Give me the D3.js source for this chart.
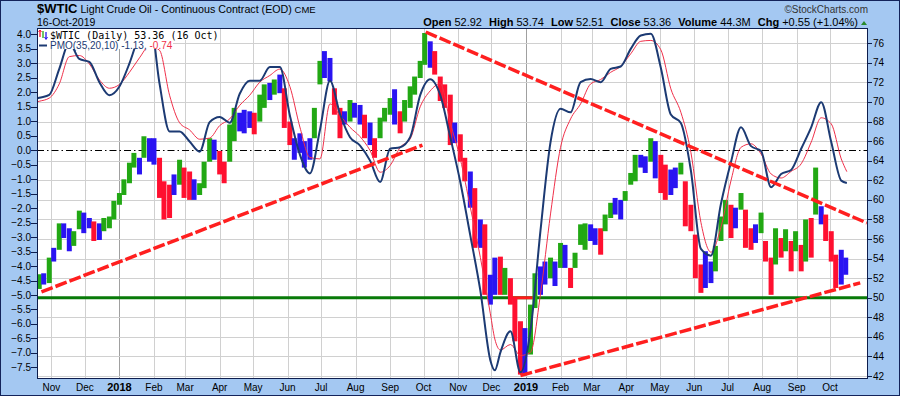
<!DOCTYPE html>
<html>
<head>
<meta charset="utf-8">
<script src="https://cdn.jsdelivr.net/npm/d3@7"></script>
<style>
  body { margin: 0; background: #a4c8f2; }
  svg { display: block; }
</style>
</head>
<body>
<svg id="chart" width="900" height="396"></svg>
<script>
// ---- data ----
const barDates = [
  "2017-10-21","2017-10-25","2017-10-30","2017-11-03","2017-11-08","2017-11-12","2017-11-17","2017-11-21","2017-11-26","2017-11-30",
  "2017-12-05","2017-12-09","2017-12-14","2017-12-18","2017-12-23","2017-12-27","2018-01-01","2018-01-05","2018-01-10","2018-01-14",
  "2018-01-19","2018-01-23","2018-01-28","2018-02-01","2018-02-06","2018-02-10","2018-02-15","2018-02-19","2018-02-24","2018-02-28",
  "2018-03-05","2018-03-09","2018-03-14","2018-03-18","2018-03-23","2018-03-27","2018-04-01","2018-04-05","2018-04-10","2018-04-14",
  "2018-04-19","2018-04-23","2018-04-28","2018-05-02","2018-05-07","2018-05-11","2018-05-16","2018-05-20","2018-05-25","2018-05-29",
  "2018-06-03","2018-06-07","2018-06-12","2018-06-16","2018-06-21","2018-06-25","2018-06-30","2018-07-04","2018-07-09","2018-07-13",
  "2018-07-18","2018-07-22","2018-07-27","2018-07-31","2018-08-05","2018-08-09","2018-08-14","2018-08-18","2018-08-23","2018-08-27",
  "2018-09-01","2018-09-05","2018-09-10","2018-09-14","2018-09-19","2018-09-23","2018-09-28","2018-10-02","2018-10-07","2018-10-11",
  "2018-10-16","2018-10-20","2018-10-25","2018-10-29","2018-11-03","2018-11-07","2018-11-12","2018-11-16","2018-11-21","2018-11-25",
  "2018-11-30","2018-12-04","2018-12-09","2018-12-13","2018-12-18","2018-12-22","2018-12-27","2018-12-31","2019-01-05","2019-01-09",
  "2019-01-14","2019-01-18","2019-01-23","2019-01-27","2019-02-01","2019-02-05","2019-02-10","2019-02-14","2019-02-19","2019-02-23",
  "2019-02-28","2019-03-04","2019-03-09","2019-03-13","2019-03-18","2019-03-22","2019-03-27","2019-03-31","2019-04-05","2019-04-09",
  "2019-04-14","2019-04-18","2019-04-23","2019-04-27","2019-05-02","2019-05-06","2019-05-11","2019-05-15","2019-05-20","2019-05-24",
  "2019-05-29","2019-06-02","2019-06-07","2019-06-11","2019-06-16","2019-06-20","2019-06-25","2019-06-29","2019-07-04","2019-07-08",
  "2019-07-13","2019-07-17","2019-07-22","2019-07-26","2019-07-31","2019-08-04","2019-08-09","2019-08-13","2019-08-18","2019-08-22",
  "2019-08-27","2019-08-31","2019-09-05","2019-09-09","2019-09-14","2019-09-18","2019-09-23","2019-09-27","2019-10-02","2019-10-06",
  "2019-10-11","2019-10-15"
];
const barHigh = [
  52.4,52.5,54.1,55.1,57.6,57.6,57.1,56.8,58.9,58.7,
  58.15,57.8,57.6,58.15,58.3,59.9,60.7,62.1,63.8,64.8,
  64.3,66.5,66.3,66.3,64.3,61.9,61.55,62.6,64.1,63.3,
  62.9,62.1,61.7,63.9,66.3,66.15,65.0,63.9,67.7,69.4,
  68.9,69.2,69.05,68.9,70.75,71.8,71.95,72.3,72.8,71.4,
  68.0,66.3,66.8,66.0,66.3,69.4,74.2,75.2,74.5,71.4,
  69.4,69.05,70.2,69.9,69.7,68.7,67.9,66.3,68.4,69.4,
  70.4,71.3,69.05,70.2,71.6,72.6,74.2,77.05,76.2,75.2,
  72.6,71.8,70.75,67.9,66.7,64.3,62.9,61.2,58.0,57.5,
  52.35,54.1,54.2,53.05,52.0,50.0,47.6,46.9,49.3,52.5,
  53.2,53.7,54.1,53.7,55.6,55.4,53.05,54.6,57.5,57.6,
  57.5,57.1,57.1,58.5,59.7,60.2,60.0,60.9,62.75,64.6,
  64.6,64.45,66.3,66.0,64.6,63.6,63.1,63.3,63.8,61.9,
  59.5,56.45,53.4,54.75,53.7,55.3,58.3,60.0,59.5,59.2,
  60.7,59.0,57.1,57.5,58.7,55.8,54.1,57.1,56.1,57.0,
  55.8,56.8,55.4,58.0,58.15,63.3,59.35,58.5,56.8,54.4,
  54.9,54.1
];
const barLow = [
  50.9,51.35,51.5,53.7,54.9,56.1,54.75,55.3,57.0,56.6,
  57.1,55.8,55.9,56.8,57.1,58.0,59.5,60.5,61.7,63.3,
  62.6,64.3,63.9,63.6,60.2,58.0,58.15,60.5,61.55,60.2,
  60.0,60.0,60.5,61.2,63.9,64.1,62.6,61.7,63.9,66.0,
  67.0,66.8,67.35,66.7,68.0,69.4,70.2,70.75,70.9,67.35,
  65.6,64.1,64.8,63.3,64.1,66.3,71.8,72.45,72.1,68.7,
  66.3,67.7,68.0,68.4,67.7,66.3,65.6,64.3,66.3,68.0,
  68.7,67.7,66.8,68.0,69.4,70.75,72.45,73.8,73.5,72.8,
  70.1,69.4,65.6,65.8,63.9,61.9,59.2,55.1,55.1,50.3,
  49.3,50.3,50.3,50.3,49.3,45.55,42.15,42.15,44.2,48.95,
  50.3,51.35,52.0,51.2,53.05,53.05,51.0,53.05,55.4,54.9,
  55.8,55.4,54.4,56.8,58.15,58.5,58.0,59.9,61.55,61.9,
  63.3,62.75,63.9,62.2,60.7,60.0,60.5,61.2,62.6,57.3,
  56.8,52.0,50.5,51.0,51.5,52.7,55.8,57.5,56.1,57.1,
  59.0,55.1,54.9,55.6,56.6,53.7,50.3,53.4,54.1,54.75,
  52.7,54.75,52.7,53.7,54.1,58.5,57.5,55.8,53.7,51.0,
  51.35,52.35
];
// G = up impulse, R = down impulse, B = neutral
const barColor = (
  "GBGBGBBGGB" + "BRBGGGGGGG" + "BGBBRRRBGR" + "RBGGGBRRGG" +
  "BBBRGGBGBR" + "RBBBBGGBBR" + "RBGBBRBRGG" + "GBRGGGGGBR" +
  "RRRBRRBRBR" + "BBRGRRRBGG" + "BBGBGBRGGG" + "BBRGGBBGGG" +
  "BBGBRRBBGR" + "RRRBBGGGRB" + "GRRBGRRGRG" + "RGRGRGBRRR" + "BB"
).split("");

const pmoDates = [
  "2017-10-18","2017-10-21","2017-10-30","2017-11-08","2017-11-17","2017-11-26","2017-12-05","2017-12-14","2017-12-23",
  "2018-01-01","2018-01-10","2018-01-19","2018-01-28","2018-02-06","2018-02-15","2018-02-24","2018-03-05","2018-03-14",
  "2018-03-23","2018-04-01","2018-04-10","2018-04-19","2018-04-28","2018-05-07","2018-05-16","2018-05-25","2018-06-03",
  "2018-06-12","2018-06-21","2018-06-30","2018-07-09","2018-07-18","2018-07-27","2018-08-05","2018-08-14","2018-08-23",
  "2018-09-01","2018-09-10","2018-09-19","2018-09-28","2018-10-07","2018-10-16","2018-10-25","2018-11-03","2018-11-12",
  "2018-11-21","2018-11-30","2018-12-04","2018-12-09","2018-12-18","2018-12-27","2019-01-05","2019-01-14","2019-01-23",
  "2019-02-01","2019-02-10","2019-02-19","2019-02-28","2019-03-09","2019-03-18","2019-03-27","2019-04-05","2019-04-14",
  "2019-04-23","2019-05-02","2019-05-11","2019-05-20","2019-05-29","2019-06-07","2019-06-16","2019-06-25","2019-07-04",
  "2019-07-13","2019-07-22","2019-07-31","2019-08-09","2019-08-18","2019-08-27","2019-09-05","2019-09-14","2019-09-23",
  "2019-10-02","2019-10-11","2019-10-16"
];
const pmoLine = [
  1.77,1.81,1.91,2.81,3.70,3.15,3.05,2.35,1.90,
  2.20,3.00,4.00,4.60,2.30,0.65,0.65,0.30,-0.05,
  0.97,1.15,0.95,1.95,2.40,2.40,2.87,2.87,1.20,
  -0.15,-0.80,0.70,2.40,1.25,0.45,0.16,-0.36,-1.10,
  0.05,0.10,0.45,1.90,2.45,1.90,0.45,-1.10,-2.95,
  -4.85,-7.26,-7.60,-6.98,-6.25,-7.67,-6.23,-2.77,0.28,
  1.43,1.31,2.35,2.46,2.35,2.81,2.89,3.50,3.96,
  4.02,2.85,1.23,0.94,-0.70,-3.41,-3.64,-1.85,-0.41,
  0.79,0.14,-0.03,-1.28,-0.82,-0.68,0.05,0.79,1.66,
  0.28,-1.05,-1.13
];
const pmoSignal = [
  1.66,1.69,1.80,2.29,3.23,3.27,2.98,2.43,2.14,
  2.27,2.69,3.19,3.60,3.45,1.90,0.95,0.70,0.38,
  0.42,0.85,1.08,1.55,1.90,2.35,2.58,2.80,2.20,
  0.80,-0.25,-0.30,1.60,1.20,0.79,0.47,-0.01,-0.76,
  -0.53,0.10,0.39,1.50,2.05,2.30,0.95,-0.30,-1.97,
  -3.70,-5.65,-6.52,-6.90,-6.71,-7.09,-6.98,-4.96,-2.20,
  0.10,1.08,1.60,2.29,2.44,2.69,2.90,3.33,3.76,
  3.79,3.47,2.12,1.31,-0.07,-2.49,-3.52,-2.66,-1.05,
  0.10,0.22,-0.13,-0.82,-0.96,-0.73,-0.47,0.28,1.12,
  0.91,-0.30,-0.74
];

const pmoTicks = [4.0,3.5,3.0,2.5,2.0,1.5,1.0,0.5,0.0,-0.5,-1.0,-1.5,-2.0,-2.5,-3.0,-3.5,-4.0,-4.5,-5.0,-5.5,-6.0,-6.5,-7.0,-7.5];
const priceTicks = [76,74,72,70,68,66,64,62,60,58,56,54,52,50,48,46,44,42];
const monthLabels = ["Nov","Dec","2018","Feb","Mar","Apr","May","Jun","Jul","Aug","Sep","Oct",
                     "Nov","Dec","2019","Feb","Mar","Apr","May","Jun","Jul","Aug","Sep","Oct"];

// trend lines drawn on the chart: [date, price] pairs
const trendLines = [
  [["2017-10-23", 50.6], ["2018-09-30", 65.6]],
  [["2018-10-03", 77.15], ["2019-11-03", 57.64]],
  [["2018-12-27", 42.05], ["2019-10-28", 51.52]]
];
const supportLevel = 50;
const supportRedSpan = ["2018-12-18", "2019-01-08"];

// ---- layout ----
const parse = d3.utcParse("%Y-%m-%d");
const pL = 37, pR = 868, pT = 28, pB = 379;
const svg = d3.select("#chart");

const x = d3.scaleUtc().domain([parse("2017-10-19"), parse("2019-11-04")]).range([pL, pR]);
const yP = d3.scaleLinear().domain([41.7, 77.56]).range([pB, pT]);
const yM = d3.scaleLinear().domain([-7.9, 4.22]).range([pB, pT]);

const colors = { G: "#22a814", R: "#ff1030", B: "#2a14f2" };
const navy = "#1c3a73";

// page background + border
svg.append("rect").attr("x", 0.5).attr("y", 0.5).attr("width", 899).attr("height", 395)
  .attr("fill", "#a4c8f2").attr("stroke", "#13235a");

// plot background
svg.append("rect").attr("x", pL).attr("y", pT).attr("width", pR - pL).attr("height", pB - pT)
  .attr("fill", "#fff");

svg.append("defs").append("clipPath").attr("id", "clip").append("rect")
  .attr("x", pL).attr("y", pT).attr("width", pR - pL).attr("height", pB - pT);
const plot = svg.append("g").attr("clip-path", "url(#clip)");

// grid
const months = d3.utcMonth.range(parse("2017-11-01"), parse("2019-10-02"));
plot.selectAll(".vg").data(months).join("line")
  .attr("x1", d => Math.round(x(d)) + 0.5).attr("x2", d => Math.round(x(d)) + 0.5)
  .attr("y1", pT).attr("y2", pB)
  .attr("stroke", d => d.getUTCMonth() === 0 ? "#a0a0a0" : "#d0d0d0").attr("stroke-width", 1);
plot.selectAll(".hg").data(priceTicks).join("line")
  .attr("x1", pL).attr("x2", pR)
  .attr("y1", d => Math.round(yP(d)) + 0.5).attr("y2", d => Math.round(yP(d)) + 0.5)
  .attr("stroke", "#d0d0d0");

// PMO zero line
plot.append("line").attr("x1", pL).attr("x2", pR)
  .attr("y1", Math.round(yM(0)) + 0.5).attr("y2", Math.round(yM(0)) + 0.5)
  .attr("stroke", "#000").attr("stroke-dasharray", "7,3,1.5,3");

// support line at 50
plot.append("line").attr("x1", pL).attr("x2", pR)
  .attr("y1", yP(supportLevel)).attr("y2", yP(supportLevel))
  .attr("stroke", "#087a08").attr("stroke-width", 3);
plot.append("line")
  .attr("x1", x(parse(supportRedSpan[0]))).attr("x2", x(parse(supportRedSpan[1])))
  .attr("y1", yP(supportLevel)).attr("y2", yP(supportLevel))
  .attr("stroke", "#ff1a1a").attr("stroke-width", 3);

// price bars
const bars = barDates.map((d, i) => ({ date: parse(d), high: barHigh[i], low: barLow[i], c: barColor[i] }));
plot.selectAll(".bar").data(bars).join("rect")
  .attr("x", d => x(d.date) - 2.5).attr("width", 5)
  .attr("y", d => yP(d.high)).attr("height", d => yP(d.low) - yP(d.high))
  .attr("fill", d => colors[d.c]);

// PMO lines
const pmo = pmoDates.map((d, i) => ({ date: parse(d), v: pmoLine[i], s: pmoSignal[i] }));
plot.append("path").datum(pmo)
  .attr("d", d3.line().x(d => x(d.date)).y(d => yM(d.s)).curve(d3.curveMonotoneX))
  .attr("fill", "none").attr("stroke", "#f0304a").attr("stroke-width", 1);
plot.append("path").datum(pmo)
  .attr("d", d3.line().x(d => x(d.date)).y(d => yM(d.v)).curve(d3.curveMonotoneX))
  .attr("fill", "none").attr("stroke", navy).attr("stroke-width", 2);

// trend lines
plot.selectAll(".trend").data(trendLines).join("line")
  .attr("x1", d => x(parse(d[0][0]))).attr("y1", d => yP(d[0][1]))
  .attr("x2", d => x(parse(d[1][0]))).attr("y2", d => yP(d[1][1]))
  .attr("stroke", "#ff1f1f").attr("stroke-width", 3.5).attr("stroke-dasharray", "12,3");

// legend boxes
const leg = svg.append("g");
leg.append("rect").attr("x", pL + 1).attr("y", pT + 1).attr("width", 182).attr("height", 11).attr("fill", "#fff");
leg.append("rect").attr("x", pL + 1).attr("y", pT + 12).attr("width", 135).attr("height", 9).attr("fill", "#fff");
// small bar icon
[["#ff1030", 40, 30, 37], ["#22a814", 43, 31, 38], ["#2a14f2", 46, 32, 39]].forEach(([c, px, a, b]) => {
  leg.append("line").attr("x1", px).attr("x2", px).attr("y1", a).attr("y2", b).attr("stroke", c).attr("stroke-width", 1.3);
});
leg.append("path").attr("d", "M38.5,32 L40,30 L41.5,32").attr("fill", "none").attr("stroke", "#ff1030").attr("stroke-width", 1);
leg.append("path").attr("d", "M44.5,37 L46,39.5 L47.5,37").attr("fill", "none").attr("stroke", "#2a14f2").attr("stroke-width", 1);
leg.append("text").attr("x", 50).attr("y", 38.5)
  .attr("font-family", "DejaVu Sans Mono").attr("font-size", 10).attr("fill", "#000")
  .text("$WTIC (Daily) 53.36 (16 Oct)");
leg.append("line").attr("x1", 39).attr("x2", 47).attr("y1", 45.5).attr("y2", 45.5).attr("stroke", navy).attr("stroke-width", 2);
const l2 = leg.append("text").attr("x", 50).attr("y", 48.5)
  .attr("font-family", "Liberation Sans, Arial").attr("font-size", 10);
l2.append("tspan").attr("fill", navy).text("PMO(35,20,10) -1.13, ");
l2.append("tspan").attr("fill", "#f0304a").text("-0.74");

// frame
svg.append("rect").attr("x", pL + 0.5).attr("y", pT + 0.5).attr("width", pR - pL - 1).attr("height", pB - pT - 1)
  .attr("fill", "none").attr("stroke", "#0d1d4d");

// left axis (PMO)
const axisFont = "Liberation Sans, Arial";
svg.selectAll(".lt").data(pmoTicks).join("line")
  .attr("x1", 31).attr("x2", pL).attr("y1", d => Math.round(yM(d)) + 0.5).attr("y2", d => Math.round(yM(d)) + 0.5)
  .attr("stroke", "#0d1d4d");
svg.selectAll(".ll").data(pmoTicks).join("text")
  .attr("x", 31).attr("y", d => yM(d) + 3.5).attr("text-anchor", "end")
  .attr("font-family", axisFont).attr("font-size", 10).attr("fill", "#000")
  .text(d => d3.format(".1f")(d));

// right axis (price)
svg.selectAll(".rt").data(priceTicks).join("line")
  .attr("x1", pR).attr("x2", pR + 4).attr("y1", d => Math.round(yP(d)) + 0.5).attr("y2", d => Math.round(yP(d)) + 0.5)
  .attr("stroke", "#0d1d4d");
svg.selectAll(".rl").data(priceTicks).join("text")
  .attr("x", pR + 5).attr("y", d => yP(d) + 3.5)
  .attr("font-family", axisFont).attr("font-size", 10).attr("fill", "#000")
  .text(d => d);

// x axis labels
svg.selectAll(".xl").data(months).join("text")
  .attr("x", d => x(d)).attr("y", 391).attr("text-anchor", "middle")
  .attr("font-family", axisFont)
  .attr("font-size", (d, i) => monthLabels[i].length === 4 ? 11 : 10)
  .attr("font-weight", (d, i) => monthLabels[i].length === 4 ? "bold" : "normal")
  .attr("fill", "#000")
  .text((d, i) => monthLabels[i]);

// header
const hf = "Liberation Sans, Arial";
const title = svg.append("text").attr("x", 37).attr("y", 12.5).attr("font-family", hf).attr("fill", "#000");
title.append("tspan").attr("font-size", 13).attr("font-weight", "bold").text("$WTIC");
title.append("tspan").attr("font-size", 10.7).text(" Light Crude Oil - Continuous Contract (EOD)");
title.append("tspan").attr("font-size", 9.5).text(" CME");
svg.append("text").attr("x", 37).attr("y", 25.5).attr("font-family", hf).attr("font-size", 10.5).text("16-Oct-2019");
svg.append("text").attr("x", 868).attr("y", 12.5).attr("text-anchor", "end")
  .attr("font-family", hf).attr("font-size", 10).attr("fill", "#333").text("\u00a9StockCharts.com");

const quote = [["Open", "52.92"], ["High", "53.74"], ["Low", "52.51"], ["Close", "53.36"], ["Volume", "44.3M"], ["Chg", "+0.55 (+1.04%)"]];
const q = svg.append("text").attr("x", 858).attr("y", 25.5).attr("text-anchor", "end")
  .attr("font-family", hf).attr("font-size", 11).attr("fill", "#000");
quote.forEach(([k, v], i) => {
  q.append("tspan").attr("font-weight", "bold").attr("dx", i ? 7 : 0).text(k);
  q.append("tspan").text("\u00a0" + v);
});
svg.append("path").attr("d", "M861,25 L864,21 L867,25 Z").attr("fill", "#2a8a2a");
</script>
</body>
</html>
